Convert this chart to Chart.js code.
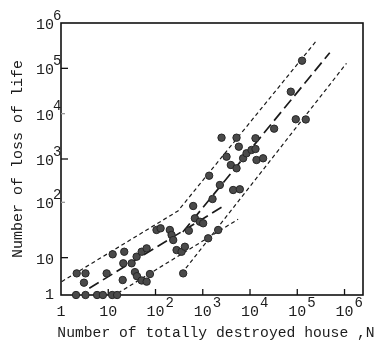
<!DOCTYPE html>
<html>
<head>
<meta charset="utf-8">
<script src="https://cdn.jsdelivr.net/npm/chart.js@4.4.0/dist/chart.umd.min.js"></script>
<style>
  html, body { margin: 0; padding: 0; background: #fff; }
</style>
</head>
<body>
<canvas id="chart" width="379" height="345"></canvas>
<script>
// Houses totally destroyed vs. loss of life (log-log)
const housesN = [2.08, 3.3, 5.8, 7.7, 12.1, 15.4,
  2.15, 3.3, 3.06, 9.25, 12.4, 21.8, 20.8, 20.2, 31.2, 36.7, 40.5, 50.9, 64.9, 76.2,
  39.8, 50.9, 64.9, 105, 128, 201, 219, 237, 508, 681, 868, 1019, 2118, 1300,
  279, 356, 419, 385, 627, 1366, 1610, 2300, 2497, 5185, 5795, 13060, 3185, 7145,
  8433, 10760, 13060, 13710, 18910, 3926, 5185, 4395, 6085, 32360, 72950, 92950,
  151300, 126200];
const lossOfLife = [1, 1, 1, 1, 1, 1,
  3.0, 3.0, 1.87, 3.0, 7.9, 9.0, 5.0, 2.14, 5.0, 3.2, 2.6, 2.09, 1.97, 2.9,
  7.0, 9.0, 10.7, 27.2, 29.6, 27.2, 21.1, 16.3, 26.2, 49.2, 41.4, 38.2, 27.2, 17.8,
  9.8, 9.0, 11.6, 3.0, 91.9, 428, 131, 267, 2951, 2951, 1869, 2864, 1125, 1037,
  1336, 1581, 1663, 951, 1037, 738, 624, 207, 215, 4666, 30540, 7520,
  7450, 147500];

// bounding and regression lines
const upperX = [1.03, 298, 262300];
const upperY = [1.97, 71.3, 422000];
const midLowX = [3.97, 2497];
const midLowY = [1.41, 86];
const midHighX = [379, 486600];
const midHighY = [24.5, 221300];
const lowLowX = [16, 5600];
const lowLowY = [1.1, 46.8];
const lowHighX = [439, 1100000];
const lowHighY = [3.9, 129000];

// axis ticks: base text + exponent
const tickValues = [1, 10, 1e2, 1e3, 1e4, 1e5, 1e6];
const tickBase = ['1', '10', '10', '10', '10', '10', '10'];
const tickExp = ['', '', '2', '3', '4', '5', '6'];
// the printed y axis is a little stretched between 1 and 100
const yTickShift = [0, 8, -2, 0, 0, 0, 0];

const pts = (xs, ys) => xs.map((v, i) => ({ x: v, y: ys[i] }));
const FONT = "'Liberation Mono', 'DejaVu Sans Mono', monospace";
const INK = '#1c1c1c';

function lineSet(xs, ys, dash, width) {
  return {
    type: 'line', data: pts(xs, ys), borderColor: '#1a1a1a', borderWidth: width,
    borderDash: dash, pointRadius: 0, fill: false, order: 1, tension: 0
  };
}

const frame = {
  id: 'frame',
  beforeDatasetsDraw(chart) {
    const { ctx, chartArea: a, scales: { x, y } } = chart;
    ctx.save();
    ctx.strokeStyle = '#111';
    ctx.lineWidth = 1.6;
    ctx.strokeRect(a.left, a.top, a.right - a.left, a.bottom - a.top);
    ctx.lineWidth = 1.3;
    tickValues.forEach((v, i) => {
      if (i > 0) {
        const px = x.getPixelForValue(v);
        ctx.beginPath(); ctx.moveTo(px, a.bottom); ctx.lineTo(px, a.bottom - 6); ctx.stroke();
      }
      if (i > 0 && i < 6) {
        const py = y.getPixelForValue(v) + yTickShift[i];
        const faint = i === 2 || i === 4;
        ctx.strokeStyle = faint ? '#999' : '#111';
        ctx.beginPath(); ctx.moveTo(a.left, py); ctx.lineTo(a.left + (faint ? 4 : 7), py); ctx.stroke();
        ctx.strokeStyle = '#111';
      }
    });
    ctx.restore();
  },
  afterDraw(chart) {
    const { ctx, chartArea: a, scales: { x, y } } = chart;
    ctx.save();
    ctx.fillStyle = INK;
    ctx.textBaseline = 'middle';
    tickValues.forEach((v, i) => {
      // x labels
      const px = x.getPixelForValue(v);
      ctx.font = '15px ' + FONT;
      ctx.textAlign = 'center';
      ctx.fillText(tickBase[i], px, a.bottom + 17);
      if (tickExp[i]) {
        const w = ctx.measureText(tickBase[i]).width;
        ctx.textAlign = 'left';
        ctx.font = '14px ' + FONT;
        ctx.fillText(tickExp[i], px + w / 2 + 1, a.bottom + 8);
      }
      // y labels
      const py = y.getPixelForValue(v) + yTickShift[i];
      ctx.font = '15px ' + FONT;
      ctx.textAlign = 'right';
      ctx.fillText(tickBase[i], a.left - 7, py + (i === 0 ? 0 : 2));
      if (tickExp[i]) {
        ctx.textAlign = 'left';
        ctx.font = '14px ' + FONT;
        ctx.fillText(tickExp[i], a.left - 8, py - 7);
      }
    });
    // x axis title
    ctx.font = '14.7px ' + FONT;
    ctx.textAlign = 'center';
    ctx.fillText('Number of totally destroyed house ,N', 216, 333);
    ctx.restore();
  }
};

new Chart(document.getElementById('chart'), {
  type: 'scatter',
  data: {
    datasets: [
      {
        data: pts(housesN, lossOfLife), backgroundColor: '#4a4a4a', borderColor: '#262626',
        borderWidth: 1, pointRadius: 3.7, order: 0, clip: false
      },
      lineSet(upperX, upperY, [4, 3], 1.2),
      lineSet(midLowX, midLowY, [11, 5], 1.7),
      lineSet(midHighX, midHighY, [11, 5], 1.7),
      lineSet(lowLowX, lowLowY, [4, 3], 1.2),
      lineSet(lowHighX, lowHighY, [4, 3], 1.2)
    ]
  },
  options: {
    responsive: false,
    animation: false,
    layout: { padding: { top: 23, right: 16, left: 0, bottom: 0 } },
    plugins: { legend: { display: false }, tooltip: { enabled: false } },
    scales: {
      x: {
        type: 'logarithmic', min: 1, max: 2460000,
        ticks: { display: false }, grid: { display: false }, border: { display: false },
        afterFit(s) { s.height = 50; }
      },
      y: {
        type: 'logarithmic', min: 1, max: 1e6,
        ticks: { display: false }, grid: { display: false }, border: { display: false },
        title: {
          display: true, text: 'Number of loss of life', color: INK,
          font: { family: FONT, size: 15 }, padding: { top: 9, bottom: 0 }
        },
        afterFit(s) { s.width = 61; }
      }
    }
  },
  plugins: [frame]
});
</script>
</body>
</html>
